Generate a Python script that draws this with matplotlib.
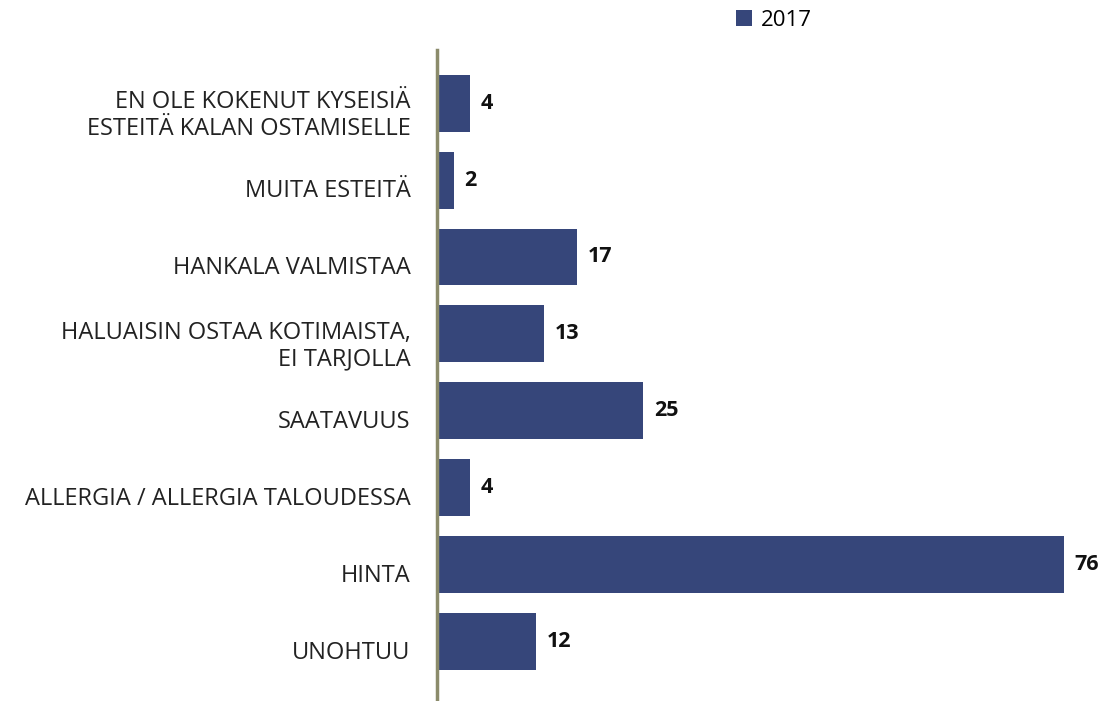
import matplotlib
matplotlib.use("Agg")
import matplotlib.pyplot as plt
import matplotlib.transforms as mtransforms

categories = [
    "EN OLE KOKENUT KYSEISIÄ\nESTEITÄ KALAN OSTAMISELLE",
    "MUITA ESTEITÄ",
    "HANKALA VALMISTAA",
    "HALUAISIN OSTAA KOTIMAISTA,\nEI TARJOLLA",
    "SAATAVUUS",
    "ALLERGIA / ALLERGIA TALOUDESSA",
    "HINTA",
    "UNOHTUU",
]
values_2017 = [4, 2, 17, 13, 25, 4, 76, 12]
series_name = "2017"

bar_color = "#36467a"
fig = plt.figure(figsize=(11.10, 7.01), dpi=100)
ax = fig.add_axes([437/1110, 0, 660/1110, (701-50)/701])

y = list(range(len(categories)))
bars = ax.barh(y, values_2017, height=0.74, color=bar_color, label=series_name, zorder=2)
ax.set_ylim(len(categories) - 1 + 0.77, -0.69)
ax.set_xlim(0, 80)
ax.set_yticks(y)
ax.set_yticklabels(categories, fontsize=17, color="#222222", family="Open Sans", linespacing=1.15)
ax.tick_params(axis="y", length=0, pad=19)
offset = mtransforms.ScaledTranslation(0, -0.08, fig.dpi_scale_trans)
for lbl in ax.get_yticklabels():
    lbl.set_transform(lbl.get_transform() + offset)
ax.set_xticks([])
for s in ["top", "right", "bottom"]:
    ax.spines[s].set_visible(False)
ax.spines["left"].set_color("#8b8b6b")
ax.spines["left"].set_linewidth(2.5)
ax.spines["left"].set_zorder(3)

for yi, v in zip(y, values_2017):
    ax.text(v + 1.3, yi, str(v), va="center", ha="left", fontsize=15.5,
            fontweight="bold", color="#111111", family="Open Sans")

fig.legend(handles=[bars], labels=[series_name], loc="center left",
           bbox_to_anchor=(716/1110, 1 - 20/701), frameon=False,
           handlelength=0.7, handleheight=0.7, handletextpad=0.4,
           prop={"family": "Open Sans", "size": 16})

fig.savefig("out.png", dpi=100, facecolor="white")
